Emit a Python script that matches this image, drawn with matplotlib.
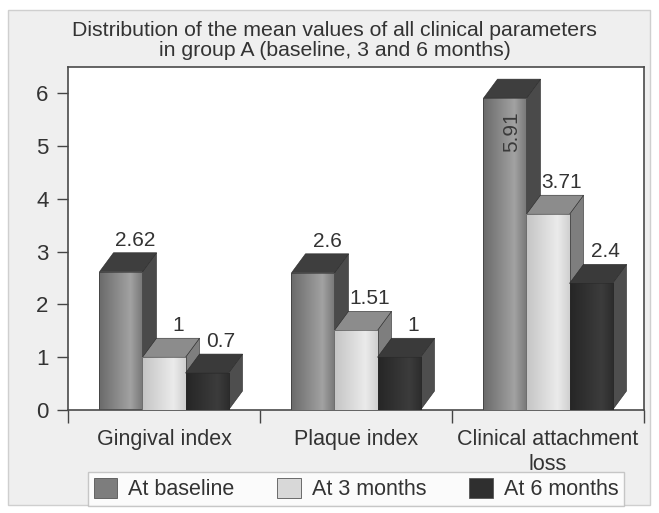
import matplotlib
matplotlib.use("Agg")
import matplotlib.pyplot as plt
import numpy as np
from matplotlib.patches import Polygon, Rectangle, Patch

categories = ["Gingival index", "Plaque index", "Clinical attachment\nloss"]
series = ["At baseline", "At 3 months", "At 6 months"]
baseline = [2.62, 2.6, 5.91]
months_3 = [1.0, 1.51, 3.71]
months_6 = [0.7, 1.0, 2.4]
labels_baseline = ["2.62", "2.6", "5.91"]
labels_3 = ["1", "1.51", "3.71"]
labels_6 = ["0.7", "1", "2.4"]

values = [baseline, months_3, months_6]
value_labels = [labels_baseline, labels_3, labels_6]

# front gradient (left, light, right), top face, side face
front_cols = [("#6a6a6a", "#a2a2a2", "#777777"),
              ("#c4c4c4", "#ebebeb", "#d0d0d0"),
              ("#262626", "#3c3c3c", "#2c2c2c")]
top_cols = ["#3e3e3e", "#8c8c8c", "#3a3a3a"]
side_cols = ["#4a4a4a", "#7e7e7e", "#4e4e4e"]
legend_cols = ["#7d7d7d", "#d8d8d8", "#2f2f2f"]

plt.rcParams["font.family"] = ["Liberation Sans", "DejaVu Sans"]
TXT = "#333333"

bar_w = 0.224
dx = 0.073
dy = 0.36


def hex_rgb(h):
    return np.array([int(h[i:i + 2], 16) / 255 for i in (1, 3, 5)])


def gradient(cols, n=64):
    a, b, c = (hex_rgb(x) for x in cols)
    t = np.linspace(0, 1, n)
    out = np.zeros((1, n, 3))
    for k, tt in enumerate(t):
        if tt < 0.72:
            f = tt / 0.72
            out[0, k] = a * (1 - f) + b * f
        else:
            f = (tt - 0.72) / 0.28
            out[0, k] = b * (1 - f) + c * f
    return out


fig = plt.figure(figsize=(6.59, 5.13), dpi=100)
fig.patch.set_facecolor("white")
fig.add_artist(Rectangle((8 / 659, 8 / 513), 642 / 659, 495 / 513, transform=fig.transFigure,
                         facecolor="#efefef", edgecolor="#cfcfcf", linewidth=1.0, zorder=0))

ax = fig.add_axes([68 / 659, 1 - 410 / 513, 576 / 659, 343 / 513])
ax.set_facecolor("white")

for ci in range(len(categories)):
    for si in range(len(series)):
        v = values[si][ci]
        x0 = ci + 0.5 + (si - 1.5) * bar_w
        x1 = x0 + bar_w
        z = 2 + ci * 3 + si
        # side face
        ax.add_patch(Polygon([(x1, 0), (x1 + dx, dy), (x1 + dx, v + dy), (x1, v)], closed=True,
                             facecolor=side_cols[si], edgecolor="#2a2a2a", linewidth=0.4, zorder=z))
        # top face
        ax.add_patch(Polygon([(x0, v), (x0 + dx, v + dy), (x1 + dx, v + dy), (x1, v)], closed=True,
                             facecolor=top_cols[si], edgecolor="#2a2a2a", linewidth=0.4, zorder=z))
        # front face with gradient
        im = ax.imshow(gradient(front_cols[si]), extent=(x0, x1, 0, v), aspect="auto",
                       interpolation="bilinear", zorder=z)
        rect = Rectangle((x0, 0), bar_w, v, facecolor="none", edgecolor="#2a2a2a", linewidth=0.4,
                         zorder=z + 0.1)
        ax.add_patch(rect)
        im.set_clip_path(rect)
        xc = (x0 + x1) / 2
        if v > 5:
            ax.text(xc + 0.035, v - 0.25, value_labels[si][ci], rotation=90, ha="center", va="top",
                    fontsize=15, color="#3a3a3a", zorder=20)
        else:
            ax.text(xc + dx, v + dy + 0.06, value_labels[si][ci], ha="center", va="bottom",
                    fontsize=15, color=TXT, zorder=20)

ax.set_xlim(0, 3)
ax.set_ylim(0, 6.5)
ax.set_yticks(range(0, 7))
ax.set_xticks([0, 1, 2, 3])
ax.set_xticklabels([])
ax.set_xticks([0.5, 1.5, 2.5], minor=True)
ax.set_xticklabels(categories, minor=True, fontsize=15.5, color=TXT, linespacing=1.2)
ax.tick_params(axis="x", which="minor", length=0, pad=14)
ax.tick_params(axis="x", which="major", length=9, width=1, color="#444444", direction="out")
ax.tick_params(axis="y", length=8, width=1, color="#444444", direction="out", pad=6,
               labelsize=16, labelcolor=TXT)
for s in ax.spines.values():
    s.set_color("#4a4a4a")
    s.set_linewidth(1.2)

fig.text(0.508, 1 - 21 / 513,
         "Distribution of the mean values of all clinical parameters\nin group A (baseline, 3 and 6 months)",
         ha="center", va="top", fontsize=15.3, color=TXT, linespacing=1.1)

handles = [Patch(facecolor=legend_cols[i], edgecolor="#555555", linewidth=0.6) for i in range(3)]
leg = fig.legend(handles, series, loc="center", bbox_to_anchor=(356 / 659, 1 - 489 / 513), ncol=3,
                 fontsize=15.5, frameon=True, fancybox=False, edgecolor="#bbbbbb", handlelength=1.1,
                 handleheight=1.1, handletextpad=0.5, columnspacing=2.0, borderpad=0.25,
                 labelcolor=TXT)
leg.get_frame().set_linewidth(1.0)

fig.savefig("out.png", dpi=100)
